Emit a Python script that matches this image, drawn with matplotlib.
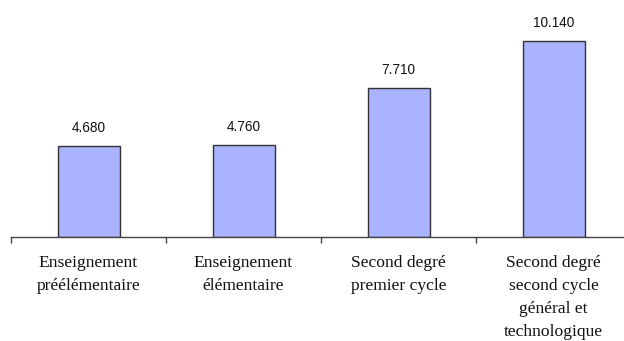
import matplotlib.pyplot as plt

# Dépense moyenne par élève selon le niveau d'enseignement
categories = ["Enseignement\npréélémentaire",
              "Enseignement\nélémentaire",
              "Second degré\npremier cycle",
              "Second degré\nsecond cycle\ngénéral et\ntechnologique"]
values = [4680, 4760, 7710, 10140]

fig = plt.figure(figsize=(6.24, 3.41), dpi=100)
ax = fig.add_axes([11 / 624, 104.5 / 341, 620 / 624, 231.6 / 341])

x = range(len(values))
ax.bar(x, values, width=0.4, color="#a9b3ff", edgecolor="#333333", linewidth=1.0, zorder=2)

ax.set_xlim(-0.5, len(values) - 0.5)
ax.set_ylim(0, 12000)

for side in ["top", "right", "left"]:
    ax.spines[side].set_visible(False)
ax.spines["bottom"].set_color("#444444")
ax.spines["bottom"].set_linewidth(1.0)
ax.set_yticks([])

# séparateurs entre catégories
ax.set_xticks([i - 0.5 for i in range(len(values) + 1)])
ax.set_xticklabels([])
ax.tick_params(axis="x", direction="out", length=4.3, width=1.0, color="#444444")

for i, v in enumerate(values):
    label = f"{v:,}".replace(",", ".")
    ax.annotate(label, xy=(i, v), xytext=(0, 13), textcoords="offset points",
                ha="center", va="center", fontsize=9.8, family="Liberation Sans",
                color="#111111")
    ax.annotate(categories[i], xy=(i, 0), xycoords=("data", "axes fraction"),
                xytext=(0, -13), textcoords="offset points",
                ha="center", va="top", fontsize=12.6, family="Liberation Serif",
                linespacing=1.6, color="#111111")

fig.savefig("out.png", dpi=100)
